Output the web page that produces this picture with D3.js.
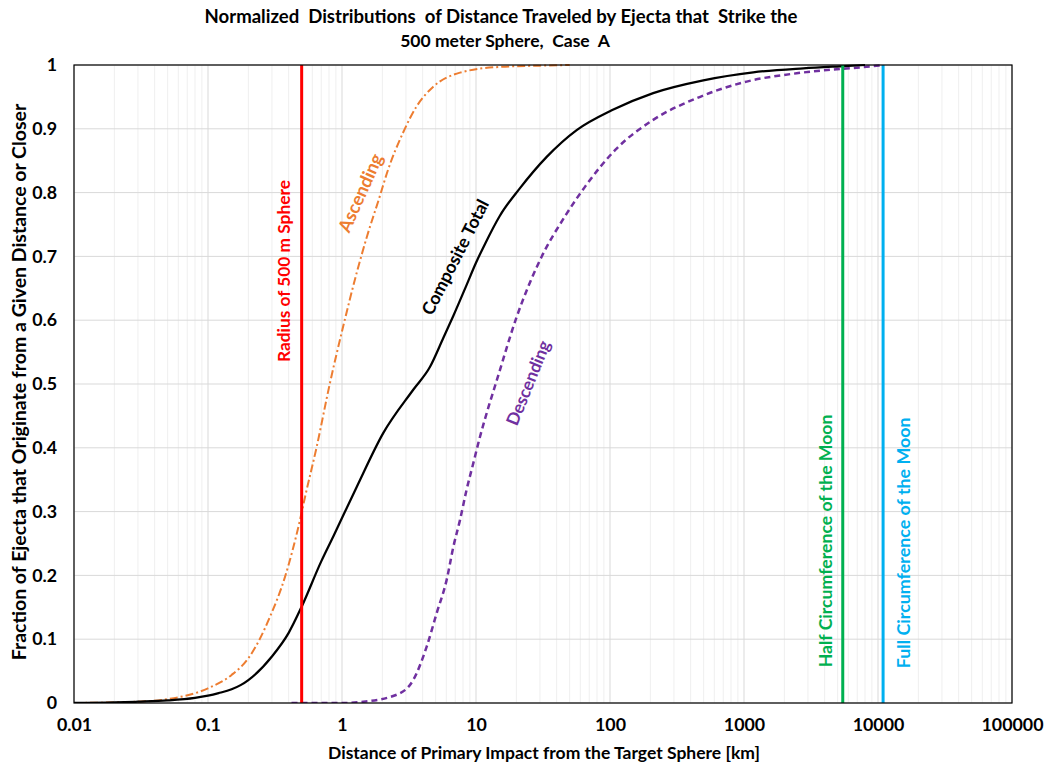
<!DOCTYPE html>
<html><head><meta charset="utf-8">
<script src="https://cdn.jsdelivr.net/npm/d3@7"></script>
<style>
body{margin:0;background:#fff;}
text{font-family:Lato, "Open Sans", sans-serif; white-space:pre;}
</style></head>
<body><svg id="c" width="1047" height="767"></svg>
<script>
// ---- data ----
const xTicks = [0.01, 0.1, 1, 10, 100, 1000, 10000, 100000];
const xTickLabels = ["0.01","0.1","1","10","100","1000","10000","100000"];
const yTicks = [0,0.1,0.2,0.3,0.4,0.5,0.6,0.7,0.8,0.9,1];
const yTickLabels = ["0","0.1","0.2","0.3","0.4","0.5","0.6","0.7","0.8","0.9","1"];

const compositeX = [0.01,0.02,0.03,0.05,0.08,0.1,0.12,0.15,0.175,0.2,0.3,0.4,0.5,0.7,0.861,1.29,2.03,3.4,4.54,5.7,6.78,8.5,10,11.7,15,21.3,33.7,56.4,103,210,497,1172,2773,5200,8000];
const compositeY = [0,0.0008,0.002,0.004,0.008,0.0115,0.0155,0.0215,0.028,0.036,0.073,0.11,0.151,0.222,0.261,0.339,0.423,0.491,0.527,0.572,0.607,0.655,0.69,0.72,0.763,0.807,0.856,0.898,0.929,0.956,0.976,0.9885,0.9948,0.998,1.0];

const ascendingX = [0.01,0.03,0.05,0.1,0.15,0.2,0.29,0.376,0.486,0.53,0.648,0.81,1.02,1.29,1.53,1.92,2.16,2.87,3.6,4.8,7.6,15,30,50];
const ascendingY = [0,0.002,0.006,0.023,0.044,0.07,0.135,0.198,0.287,0.323,0.402,0.5,0.59,0.675,0.73,0.795,0.83,0.895,0.935,0.966,0.988,0.997,0.999,1.0];

const descendingX = [0.42,1,1.44,2.56,3.4,4.28,5.09,6.04,6.78,7.6,8.5,9.55,10.7,12.4,14.3,20.1,30,47.5,65,112,210,443,1047,2470,4645,7350,11000];
const descendingY = [0,0,0.002,0.013,0.036,0.088,0.141,0.193,0.245,0.287,0.334,0.376,0.417,0.464,0.506,0.605,0.694,0.767,0.809,0.869,0.914,0.948,0.974,0.987,0.993,0.9963,1.0];

const markerValues = [0.5, 5457, 10914];
const markerColors = ["#FF0000", "#00B050", "#00B0F0"];

const labelTexts = ["Radius of 500 m Sphere","Ascending","Composite Total","Descending","Half Circumference of the Moon","Full Circumference of the Moon"];
const labelX = [0.363, 1.36, 6.97, 24.4, 4090, 15380];
const labelY = [0.677, 0.80, 0.699, 0.502, 0.254, 0.251];
const labelAngle = [-90, -66, -63, -68, -90, -90];
const labelColors = ["#FF0000","#ED7D31","#000000","#7030A0","#00B050","#00B0F0"];
const labelWidths = [182, 84, 127, 90, 253, 251];

// ---- chart ----
const svg = d3.select("#c");
const m = {l:74, r:1012, t:65, b:703};
const x = d3.scaleLog().domain([0.01,100000]).range([m.l, m.r]);
const y = d3.scaleLinear().domain([0,1]).range([m.b, m.t]);

function fit(sel, target){
  sel.attr("font-size",15);
  const w = sel.node().getComputedTextLength();
  const fs = 15*target/w;
  sel.attr("font-size",fs);
  return fs;
}

// minor grid
const minor = [];
for (let e=-2; e<5; e++) for (let k=2;k<10;k++) minor.push(k*Math.pow(10,e));
svg.append("g").selectAll("line").data(minor).join("line")
  .attr("x1",d=>x(d)).attr("x2",d=>x(d)).attr("y1",m.t).attr("y2",m.b)
  .attr("stroke","#efefef").attr("stroke-width",1);
// major grid
svg.append("g").selectAll("line").data(xTicks).join("line")
  .attr("x1",d=>x(d)).attr("x2",d=>x(d)).attr("y1",m.t).attr("y2",m.b)
  .attr("stroke","#d9d9d9").attr("stroke-width",1);
svg.append("g").selectAll("line").data(yTicks).join("line")
  .attr("x1",m.l).attr("x2",m.r).attr("y1",d=>y(d)).attr("y2",d=>y(d))
  .attr("stroke","#d9d9d9").attr("stroke-width",1);

// tick font size from width of "100000" (~63px)
const probe = svg.append("text").attr("font-weight","bold").text("100000");
const tickFs = fit(probe, 62);
probe.remove();

// axes
const xa = svg.append("g").attr("transform",`translate(0,${m.b})`)
  .call(d3.axisBottom(x).tickValues(xTicks).tickFormat((d,i)=>xTickLabels[i]).tickSize(0).tickPadding(15));
xa.select(".domain").remove();
xa.selectAll("text").attr("font-size",tickFs).attr("font-weight","bold").attr("fill","#000").attr("font-family","Lato, sans-serif");
const ya = svg.append("g").attr("transform",`translate(${m.l},0)`)
  .call(d3.axisLeft(y).tickValues(yTicks).tickFormat((d,i)=>yTickLabels[i]).tickSize(0).tickPadding(17));
ya.select(".domain").remove();
ya.selectAll("text").attr("font-size",tickFs).attr("font-weight","bold").attr("fill","#000").attr("font-family","Lato, sans-serif");

svg.append("clipPath").attr("id","pc").append("rect")
  .attr("x",m.l).attr("y",m.t-2).attr("width",m.r-m.l).attr("height",m.b-m.t+2);

const line = d3.line().x(d=>x(d[0])).y(d=>y(d[1])).curve(d3.curveMonotoneX);
const plot = svg.append("g").attr("clip-path","url(#pc)");

plot.append("path").datum(ascendingX.map((v,i)=>[v,ascendingY[i]]))
  .attr("d",line).attr("fill","none").attr("stroke","#ED7D31").attr("stroke-width",2)
  .attr("stroke-dasharray","8,3,2,3");
plot.append("path").datum(descendingX.map((v,i)=>[v,descendingY[i]]))
  .attr("d",line).attr("fill","none").attr("stroke","#7030A0").attr("stroke-width",2.5)
  .attr("stroke-dasharray","6,4");
plot.append("path").datum(compositeX.map((v,i)=>[v,compositeY[i]]))
  .attr("d",line).attr("fill","none").attr("stroke","#000").attr("stroke-width",2.25);

// vertical markers
svg.append("g").selectAll("line").data(markerValues).join("line")
  .attr("x1",d=>x(d)).attr("x2",d=>x(d)).attr("y1",m.t).attr("y2",m.b)
  .attr("stroke",(d,i)=>markerColors[i]).attr("stroke-width",3);

// border
svg.append("rect").attr("x",m.l).attr("y",m.t).attr("width",m.r-m.l).attr("height",m.b-m.t)
  .attr("fill","none").attr("stroke","#000").attr("stroke-width",1.2);

// annotations
svg.append("g").selectAll("text").data(labelTexts).join("text")
  .attr("transform",(d,i)=>`translate(${x(labelX[i])},${y(labelY[i])}) rotate(${labelAngle[i]})`)
  .attr("text-anchor","middle").attr("dominant-baseline","central")
  .attr("font-weight","bold")
  .attr("fill",(d,i)=>labelColors[i]).text(d=>d)
  .each(function(d,i){ fit(d3.select(this), labelWidths[i]); });

// titles
fit(svg.append("text").attr("x",501).attr("y",23).attr("text-anchor","middle")
  .attr("font-weight","bold").text("Normalized  Distributions  of Distance Traveled by Ejecta that  Strike the"), 593);
fit(svg.append("text").attr("x",505).attr("y",47).attr("text-anchor","middle")
  .attr("font-weight","bold").text("500 meter Sphere,  Case  A"), 210);
fit(svg.append("text").attr("x",544).attr("y",759).attr("text-anchor","middle")
  .attr("font-weight","bold").text("Distance of Primary Impact from the Target Sphere [km]"), 432);
fit(svg.append("text").attr("transform","translate(26,382) rotate(-90)").attr("text-anchor","middle")
  .attr("font-weight","bold").text("Fraction of Ejecta that Originate from a Given Distance or Closer"), 557);
</script></body></html>
